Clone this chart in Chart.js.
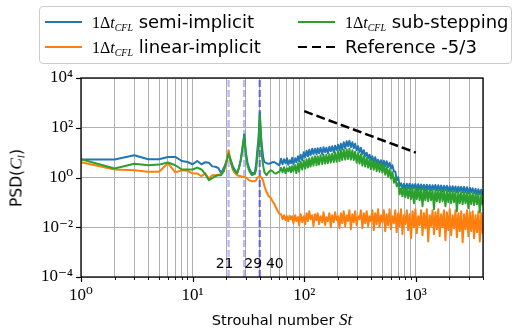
<!DOCTYPE html>
<html>
<head>
<meta charset="utf-8">
<script src="https://cdn.jsdelivr.net/npm/chart.js@4.4.1/dist/chart.umd.min.js"></script>
<style>
html,body{margin:0;padding:0;background:#fff;}
#wrap{position:relative;width:532px;height:333px;overflow:hidden;font-family:"DejaVu Sans",sans-serif;color:#000;}
canvas{position:absolute;left:0;top:0;}
.m{font-family:"Liberation Serif","DejaVu Serif",serif;}
.lt .m{font-size:16px;}
sub{font-size:62%;vertical-align:-0.3em;line-height:0;}
#legend{position:absolute;left:39px;top:6px;width:471px;height:56px;border:1px solid #cccccc;border-radius:4px;background:rgba(255,255,255,0.85);}
.lt{position:absolute;height:24px;line-height:24px;font-size:18px;white-space:nowrap;}
.h{position:absolute;width:37px;height:2px;}
#xt{position:absolute;left:81px;width:402px;text-align:center;top:311px;font-size:14.6px;line-height:18px;white-space:nowrap;}
#xt .m{font-size:17px;}
#yt{position:absolute;left:16px;top:177.5px;transform:translate(-50%,-50%) rotate(-90deg);font-size:15.5px;line-height:18px;white-space:nowrap;}
#yt .m{font-size:17.5px;}
</style>
</head>
<body>
<div id="wrap">
<canvas id="c" width="532" height="333"></canvas>
<div id="legend"></div>
<div class="h" style="left:45px;top:21px;background:#1f77b4"></div>
<div class="lt" style="left:92px;top:10px"><span class="m">1Δ<i>t</i><sub><i>CFL</i></sub></span> semi-implicit</div>
<div class="h" style="left:45px;top:45.5px;background:#ff7f0e"></div>
<div class="lt" style="left:92px;top:34.5px"><span class="m">1Δ<i>t</i><sub><i>CFL</i></sub></span> linear-implicit</div>
<div class="h" style="left:298px;top:21px;background:#2ca02c"></div>
<div class="lt" style="left:345px;top:10px"><span class="m">1Δ<i>t</i><sub><i>CFL</i></sub></span> sub-stepping</div>
<div class="h" style="left:298px;top:45.5px;height:2.5px;background:repeating-linear-gradient(to right,#000 0 9px,transparent 9px 14px)"></div>
<div class="lt" style="left:345px;top:34.5px">Reference -5/3</div>
<div id="xt">Strouhal number <span class="m"><i>St</i></span></div>
<div id="yt">PSD(<span class="m"><i>C</i><sub><i>l</i></sub></span>)</div>
</div>
<script>
// Strouhal numbers (x positions of samples)
const St = [1,2,3,4,5,6,7,8,9,10,11,12,13,14,15,16,17,18,19,20,21,22,23,24,25,26,27,28,29,30,31,32,33,34,36,37,38,39,40,41,42,43,44,46,48,50,52,54,56,58,60,
62,64,66,68,70,72,74,76,78,80,
83,85,88,90,93,96,99,102,105,108,
111,114,118,121,125,129,132,136,140,145,
149,154,158,163,168,173,178,184,189,195,
201,207,213,219,226,233,240,247,254,262,
270,278,286,295,304,313,322,332,342,352,
363,374,385,396,408,420,433,446,459,473,
487,502,517,532,548,565,582,599,617,636,
655,674,695,716,737,759,782,805,830,854,
880,906,934,962,991,1020,1051,1082,1115,1148,
1183,1218,1255,1292,1331,1371,1412,1455,1498,1543,
1590,1637,1686,1737,1789,1843,1898,1955,2014,2074,
2137,2201,2267,2335,2405,2477,2551,2628,2707,2788,
2872,2958,3046,3138,3232,3329,3429,3532,3638,3747,
3859,3975];

// PSD, 1Δt_CFL semi-implicit
const psdSemiImplicit = [5.3,5.3,7.9,5.4,5.4,6.7,6.7,4.6,4.2,3.4,4.6,3.4,4.1,3.9,2.8,2.7,2.4,1.5,2.4,4.1,9.2,5.0,2.7,2.0,1.45,2.4,4.95,16.5,53,10.4,4.1,2.4,1.8,1.5,1.5,3.1,12.5,38,410,46,15,6.0,4.2,3.75,3.6,3.75,4.1,4.2,3.75,3.4,3.1,
5.7,3.42,5.43,3.75,5.96,3.27,4.95,3.75,6.24,3.42,
5.96,4.12,7.17,4.52,8.24,4.95,10.4,6.54,11.9,7.17,
13.1,7.87,14.3,8.63,14.3,8.63,15.0,9.46,15.7,8.63,
16.5,10.4,15.7,9.46,17.3,11.4,18.1,10.4,18.9,12.5,
20.7,12.5,22.8,13.7,26.2,15.0,28.7,18.1,30.1,16.5,
26.2,15.0,22.8,12.5,18.1,10.4,15.7,8.63,12.5,7.17,
9.9,5.96,8.24,4.95,7.17,4.12,6.54,3.75,5.18,3.42,
4.95,2.84,4.73,2.84,4.52,2.59,3.93,2.36,3.12,1.79,
1.71,0.78,1.03,0.448,0.59,0.372,0.564,0.339,0.564,0.372,
0.564,0.339,0.538,0.372,0.55,0.309,0.538,0.339,0.52,0.339,
0.514,0.309,0.514,0.339,0.50,0.309,0.491,0.339,0.50,0.309,
0.491,0.309,0.478,0.282,0.469,0.309,0.469,0.282,0.448,0.282,
0.448,0.282,0.435,0.257,0.428,0.282,0.42,0.257,0.42,0.257,
0.408,0.234,0.39,0.257,0.372,0.234,0.355,0.213,0.339,0.213,
0.324,0.195];

// PSD, 1Δt_CFL linear-implicit
const psdLinearImplicit = [4.1,2.1,1.96,1.7,1.7,3.75,1.6,1.96,1.85,1.45,1.45,1.13,1.45,0.91,1.24,1.24,1.3,1.36,1.8,3.75,12.5,3.75,1.96,1.5,1.24,1.18,1.13,1.08,1.06,0.98,0.9,0.78,0.74,0.71,0.71,0.78,0.98,1.03,1.06,1.03,0.91,0.71,0.45,0.26,0.177,0.155,0.112,0.085,0.061,0.044,0.034,
0.0336,0.0211,0.0306,0.0193,0.0279,0.0176,0.0292,0.0211,0.0279,0.0146,
0.0306,0.0176,0.0255,0.0121,0.0336,0.0160,0.0279,0.0133,0.0368,0.0176,
0.0443,0.0211,0.0306,0.0111,0.0336,0.0193,0.0368,0.0133,0.0279,0.0160,
0.0404,0.0121,0.0255,0.0176,0.0368,0.0101,0.0306,0.0160,0.0404,0.0193,
0.0279,0.0092,0.0368,0.0146,0.0443,0.0111,0.0306,0.0176,0.0486,0.0084,
0.0336,0.0160,0.0443,0.0121,0.0279,0.0211,0.0486,0.0092,0.0368,0.0146,
0.0443,0.0111,0.0279,0.0176,0.0486,0.0077,0.0368,0.0133,0.0533,0.0101,
0.0306,0.0160,0.0486,0.0070,0.0336,0.0121,0.0533,0.0084,0.0279,0.0146,
0.0486,0.0064,0.0368,0.0111,0.0533,0.0053,0.0306,0.0133,0.0486,0.0077,
0.0336,0.0036,0.0443,0.0101,0.0533,0.0058,0.0279,0.0121,0.0486,0.0048,
0.0368,0.0092,0.0533,0.0027,0.0306,0.0111,0.0486,0.0053,0.0404,0.0084,
0.0533,0.0044,0.0336,0.0101,0.0486,0.0030,0.0404,0.0077,0.0533,0.0048,
0.0306,0.0092,0.0486,0.0040,0.0368,0.0070,0.0443,0.0025,0.0336,0.0084,
0.0486,0.0044,0.0404,0.0070,0.0443,0.0036,0.0306,0.0064,0.0443,0.0027,
0.0368,0.0053];

// PSD, 1Δt_CFL sub-stepping
const psdSubStepping = [5.4,2.3,3.6,3.1,3.3,4.0,3.1,2.1,2.1,2.1,2.5,2.1,1.36,0.78,0.94,1.13,1.24,1.24,1.8,4.1,9.2,4.5,2.3,1.8,1.45,2.4,5.0,13.7,43,7.9,3.1,1.96,1.5,1.24,1.36,1.96,6.0,26,318,31.5,6.0,2.8,1.63,1.24,1.63,1.96,1.8,1.5,1.45,1.63,1.7,
2.47,1.63,2.59,1.49,2.36,1.79,2.71,1.63,2.84,1.79,
3.12,1.5,3.75,1.72,4.32,2.07,4.73,2.27,5.43,2.5,
5.96,2.74,6.54,3.0,7.17,3.14,7.17,3.3,7.87,3.46,
8.24,3.62,8.24,3.78,8.63,3.96,9.0,4.14,10.4,4.34,
11.4,4.56,12.5,5.0,13.1,5.23,13.7,5.48,14.3,5.23,
12.5,5.0,10.9,3.96,9.46,3.62,8.63,3.0,7.17,2.74,
6.24,2.5,5.43,2.17,4.73,2.07,4.52,1.8,3.93,1.72,
3.59,1.57,3.27,1.3,2.59,1.09,2.15,0.9,1.63,0.62,
1.03,0.448,0.59,0.213,0.372,0.177,0.372,0.162,0.372,0.148,
0.372,0.135,0.372,0.093,0.355,0.135,0.355,0.123,0.355,0.0704,
0.339,0.123,0.339,0.112,0.324,0.123,0.324,0.0533,0.324,0.112,
0.309,0.102,0.309,0.112,0.295,0.0704,0.295,0.102,0.282,0.093,
0.282,0.102,0.269,0.0443,0.269,0.093,0.257,0.085,0.257,0.093,
0.245,0.0585,0.245,0.085,0.234,0.077,0.224,0.085,0.224,0.0404,
0.213,0.077];

// Reference -5/3 slope line
const refSt = [100, 1000];
const refPsd = [464, 10];

// Marked peaks
const peakSt = [21, 29, 40];
const peakLabels = ['21', '29', '40'];

// Axis ticks
const xTickValues = [1,2,3,4,5,6,7,8,9,10,20,30,40,50,60,70,80,90,100,200,300,400,500,600,700,800,900,1000,2000,3000,4000];
const yTickValues = [1e-4, 1e-2, 1, 1e2, 1e4];
const xRange = [1, 4000];
const yRange = [1e-4, 1e4];

const SUP = {'-':'\u207B','0':'\u2070','1':'\u00B9','2':'\u00B2','3':'\u00B3','4':'\u2074','5':'\u2075','6':'\u2076','7':'\u2077','8':'\u2078','9':'\u2079'};
function isPow10(v){ const l = Math.log10(v); return Math.abs(l - Math.round(l)) < 1e-9; }
function powLabel(v){ if(!isPow10(v)) return ''; const e = String(Math.round(Math.log10(v))); return '10' + e.split('').map(c=>SUP[c]).join(''); }

function pts(xs, ys){ const n = Math.min(xs.length, ys.length); const out=[]; for(let i=0;i<n;i++) out.push({x:xs[i], y:ys[i]}); return out; }

const vlineColors = ['rgba(60,60,240,0.35)','rgba(60,60,240,0.35)','rgba(40,40,220,0.55)'];
const peakLabelShift = [-4, 9, 15];

const decor = {
  id: 'decor',
  afterDatasetsDraw(chart){
    const {ctx, chartArea:a, scales} = chart;
    const x = scales.x, y = scales.y;
    ctx.save();
    ctx.strokeStyle = '#000';
    xTickValues.forEach(v => {
      const px = Math.round(x.getPixelForValue(v)) + 0.5;
      const major = isPow10(v);
      ctx.lineWidth = major ? 1.2 : 0.9;
      ctx.beginPath(); ctx.moveTo(px, a.bottom); ctx.lineTo(px, a.bottom + (major ? 5 : 3)); ctx.stroke();
    });
    yTickValues.forEach(v => {
      const py = Math.round(y.getPixelForValue(v)) + 0.5;
      ctx.lineWidth = 1.2;
      ctx.beginPath(); ctx.moveTo(a.left - 5, py); ctx.lineTo(a.left, py); ctx.stroke();
    });
    ctx.lineWidth = 1.3;
    ctx.strokeRect(a.left, a.top, a.right - a.left, a.bottom - a.top);
    ctx.fillStyle = '#000';
    ctx.font = '14px "DejaVu Sans"';
    ctx.textAlign = 'center';
    ctx.textBaseline = 'alphabetic';
    const ly = y.getPixelForValue(2.2e-4);
    peakSt.forEach((v,i) => ctx.fillText(peakLabels[i], x.getPixelForValue(v) + peakLabelShift[i], ly));
    ctx.restore();
  }
};

const datasets = [
  {label:'1Δt_CFL semi-implicit', data: pts(St, psdSemiImplicit), borderColor:'#1f77b4', borderWidth:2, order:4},
  {label:'1Δt_CFL linear-implicit', data: pts(St, psdLinearImplicit), borderColor:'#ff7f0e', borderWidth:2, order:3},
  {label:'1Δt_CFL sub-stepping', data: pts(St, psdSubStepping), borderColor:'#2ca02c', borderWidth:2, order:2},
  {label:'Reference -5/3', data: pts(refSt, refPsd), borderColor:'#000', borderWidth:2.5, borderDash:[9,4], order:1}
];
peakSt.forEach((v,i) => datasets.push({
  label:'St ' + peakLabels[i], data: pts([v, v], yRange), borderColor: vlineColors[i], borderWidth: 2.5, borderDash:[7,3], order: 5
}));

new Chart(document.getElementById('c'), {
  type: 'line',
  data: { datasets },
  options: {
    responsive: false,
    devicePixelRatio: 1,
    animation: false,
    elements: { point: { radius: 0 }, line: { tension: 0, borderJoinStyle:'round', borderCapStyle:'butt', fill:false } },
    layout: { padding: { top: 78, right: 49, left: 0, bottom: 0 } },
    plugins: { legend: { display: false }, tooltip: { enabled: false } },
    scales: {
      x: {
        type: 'logarithmic', min: xRange[0], max: xRange[1],
        afterBuildTicks: s => { s.ticks = xTickValues.map(v => ({value: v, major: isPow10(v)})); },
        afterFit: s => { s.height = 56; },
        ticks: { autoSkip: false, maxRotation: 0, minRotation: 0, callback: v => powLabel(v), color: '#000', padding: 8,
                 font: { family: '"Liberation Serif","DejaVu Serif",serif', size: 17 } },
        grid: { color: '#b0b0b0', lineWidth: 1, drawTicks: false },
        border: { display: false }
      },
      y: {
        type: 'logarithmic', min: yRange[0], max: yRange[1],
        afterBuildTicks: s => { s.ticks = yTickValues.map(v => ({value: v, major: true})); },
        afterFit: s => { s.width = 81; },
        ticks: { autoSkip: false, callback: v => powLabel(v), color: '#000', padding: 8,
                 font: { family: '"Liberation Serif","DejaVu Serif",serif', size: 17 } },
        grid: { color: '#b0b0b0', lineWidth: 1, drawTicks: false },
        border: { display: false }
      }
    }
  },
  plugins: [decor]
});
</script>
</body>
</html>
